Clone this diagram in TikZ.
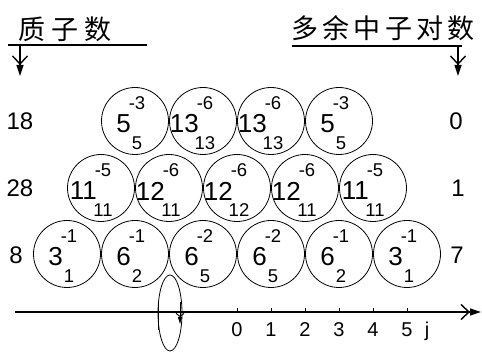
\documentclass[tikz,border=0pt]{standalone}
\usepackage{fontspec}
\setmainfont{Liberation Sans}
\newfontfamily\cjk{Noto Sans CJK SC}
\usetikzlibrary{arrows.meta,shapes.geometric}
\tikzset{
  ring/.style={circle, draw, line width=0.8pt, minimum size=67pt, inner sep=0pt},
  bignum/.style={font=\fontsize{26pt}{26pt}\selectfont, inner sep=0pt, anchor=east},
  smallnum/.style={font=\fontsize{18.5pt}{18.5pt}\selectfont, inner sep=0pt},
  sidelbl/.style={font=\fontsize{24pt}{24pt}\selectfont, inner sep=0pt},
  axlbl/.style={font=\fontsize{20pt}{20pt}\selectfont, inner sep=0pt, anchor=base},
  titletxt/.style={font={\cjk\fontsize{27pt}{27pt}\selectfont}, inner sep=0pt},
  fancy/.style={line width=1.2pt, -{Straight Barb[length=8pt,width=15pt,line width=1.4pt] Triangle[length=11pt,width=7pt]}},
  tinyarrow/.style={line width=1pt, -{Straight Barb[length=3pt,width=8pt,line width=0.9pt] Triangle[length=7pt,width=4pt]}},
}
\newcommand\nuc[6]{%
  \node[ring] (#1) at (#2,#3) {};
  \node[bignum] (#1b) at ([shift={(-4,3)}]#1.center) {#4};
  \node[smallnum] (#1u) at ([shift={(2,-18)}]#1.center) {#5};
  \node[smallnum] (#1d) at ([shift={(2,22)}]#1.center) {#6};
}
\begin{document}
\begin{tikzpicture}[x=1pt,y=-1pt]
\useasboundingbox (0,0) rectangle (482,352);
% titles
\node[titletxt] (tl) at (65,29) {质\hspace{6pt}子\hspace{6pt}数};
\node[titletxt] (tr) at (383,28) {多\hspace{4.4pt}余\hspace{4.4pt}中\hspace{4.4pt}子\hspace{4.4pt}对\hspace{4.4pt}数};
\coordinate (ul1) at (8,45);
\coordinate (ul2) at (147,45);
\draw[line width=1.5pt] (ul1) -- (ul2);
\coordinate (ur1) at (292,46);
\coordinate (ur2) at (462,46);
\draw[line width=1.5pt] (ur1) -- (ur2);
\coordinate (la1) at (20,45);
\coordinate (la2) at (20,76);
\draw[fancy] (la1) -- (la2);
\coordinate (ra1) at (458,46);
\coordinate (ra2) at (458,76);
\draw[fancy] (ra1) -- (ra2);
% side labels
\node[sidelbl] (l18) at (20,121) {18};
\node[sidelbl] (l28) at (20,188) {28};
\node[sidelbl] (l8) at (16,255) {8};
\node[sidelbl] (r0) at (456,121) {0};
\node[sidelbl] (r1) at (458,188) {1};
\node[sidelbl] (r7) at (457,255) {7};
% circles
\nuc{t1}{135}{121}{5}{-3}{5}
\nuc{t2}{203}{121}{13}{-6}{13}
\nuc{t3}{271}{121}{13}{-6}{13}
\nuc{t4}{339}{121}{5}{-3}{5}
\nuc{m1}{101}{188}{11}{-5}{11}
\nuc{m2}{169}{188}{12}{-6}{11}
\nuc{m3}{237}{188}{12}{-6}{12}
\nuc{m4}{305}{188}{12}{-6}{11}
\nuc{m5}{373}{188}{11}{-5}{11}
\nuc{b1}{67}{254}{3}{-1}{1}
\nuc{b2}{135}{254}{6}{-1}{2}
\nuc{b3}{203}{254}{6}{-2}{5}
\nuc{b4}{271}{254}{6}{-2}{5}
\nuc{b5}{339}{254}{6}{-1}{2}
\nuc{b6}{407}{254}{3}{-1}{1}
% axis
\coordinate (ax0) at (15,312);
\coordinate (ax1) at (481,312);
\draw[fancy] (ax0) -- (ax1);
\foreach \j in {0,...,5} {
  \coordinate (tk\j) at ({237+34*\j},312);
  \draw[line width=1pt] (tk\j) -- ++(0,-4);
  \node[axlbl] (jl\j) at ({237+34*\j},337) {\j};
}
\node[axlbl] (jj) at (427,337) {j};
\coordinate (lt1) at (158,303);
\coordinate (lt2) at (158,330);
\draw[line width=1pt] (lt1) -- (lt2);
\coordinate (sa1) at (180,302);
\coordinate (sa2) at (180,324);
\draw[tinyarrow] (sa1) -- (sa2);
\node[draw, ellipse, line width=0.8pt, minimum width=24pt, minimum height=76pt, inner sep=0pt] (ell) at (170,313) {};
\end{tikzpicture}
\end{document}
